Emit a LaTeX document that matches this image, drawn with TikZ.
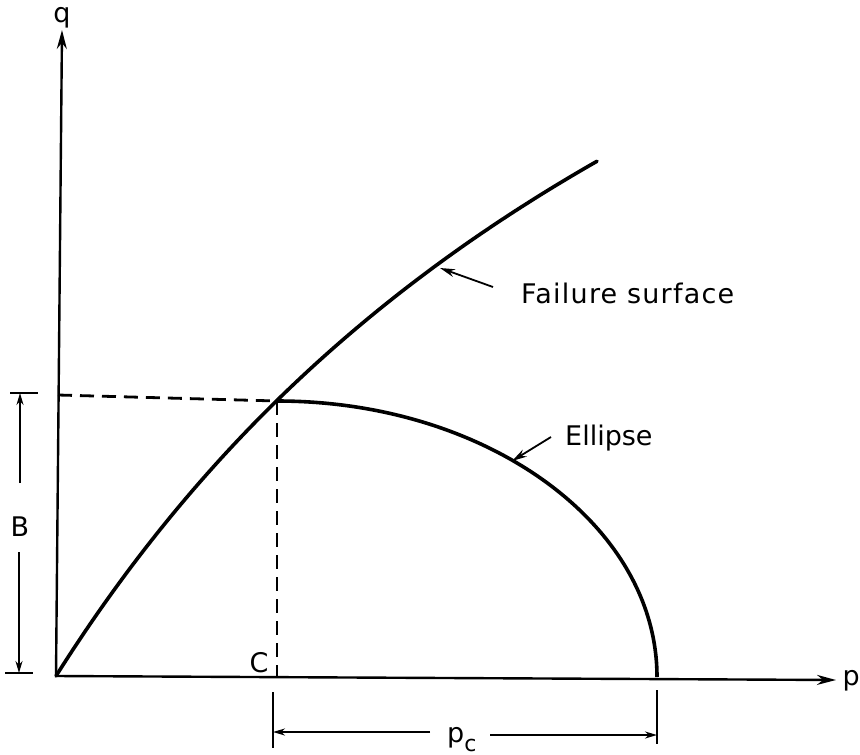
\documentclass[tikz,border=0pt]{standalone}
\usepackage{fontspec}
\setmainfont{DejaVu Sans}
\usetikzlibrary{arrows.meta}
\begin{document}
\begin{tikzpicture}[x=1pt,y=-1pt,
  axis/.style={line width=2.4pt,-{Stealth[length=19pt,width=10pt]}},
  curve/.style={line width=3.6pt},
  dashline/.style={line width=2.8pt,dash pattern=on 14pt off 8pt},
  dimline/.style={line width=1.8pt},
  dimarrow/.style={line width=1.8pt,-{Stealth[length=12pt,width=7pt]}},
  leader/.style={line width=1.8pt,-{Stealth[length=15pt,width=8pt]}},
  lbl/.style={inner sep=0pt,font=\fontsize{27}{30}\selectfont}]
\useasboundingbox (0,0) rectangle (860,755);
% axes
\coordinate (O) at (56,676);
\coordinate (qtop) at (62,30);
\coordinate (pend) at (836,680);
\draw[axis] (O) -- (qtop);
\draw[axis] (O) -- (pend);
\node[lbl,anchor=base] (qlab) at (62,22) {q};
\node[lbl,anchor=base east] (plab) at (860,685) {p};
% failure surface
\draw[curve,line cap=round] plot[domain=0:541,samples=80] ({56+\x},{676-\x/(0.63+0.00078*\x)});
% ellipse
\coordinate (ellR) at (657,677);
\coordinate (ellT) at (277,401);
\draw[curve] (ellR) arc[start angle=0,end angle=-90,x radius=380,y radius=276];
% dashed lines
\coordinate (dashL) at (58,395);
\coordinate (Cpt) at (277,677);
\draw[dashline] (dashL) -- (ellT);
\draw[dashline] (ellT) -- (Cpt);
\node[lbl,anchor=base] (Clab) at (259,672) {C};
% B dimension
\coordinate (Btl) at (10,393);
\coordinate (Btr) at (38,393);
\coordinate (Bbl) at (5,673);
\coordinate (Bbr) at (33,673);
\draw[dimline] (Btl) -- (Btr);
\draw[dimline] (Bbl) -- (Bbr);
\node[lbl,anchor=center] (Blab) at (20,527) {B};
\coordinate (B1) at (20,483);
\coordinate (B2) at (20,393);
\coordinate (B3) at (19,552);
\coordinate (B4) at (19,673);
\draw[dimarrow] (B1) -- (B2);
\draw[dimarrow] (B3) -- (B4);
% pc dimension
\coordinate (Lt) at (273,692);
\coordinate (Lb) at (273,748);
\coordinate (Rt) at (657,690);
\coordinate (Rb) at (657,744);
\draw[dimline] (Lt) -- (Lb);
\draw[dimline] (Rt) -- (Rb);
\node[lbl,anchor=base west] (pclab) at (447,742) {p\raisebox{-9pt}{\fontsize{22}{24}\selectfont c}};
\coordinate (P1) at (430,732);
\coordinate (P2) at (273,732);
\coordinate (P3) at (490,735);
\coordinate (P4) at (657,735);
\draw[dimarrow] (P1) -- (P2);
\draw[dimarrow] (P3) -- (P4);
% labels with leaders
\node[lbl,anchor=base west] (flab) at (521,303) {\addfontfeatures{LetterSpace=4.5}Failure surface};
\coordinate (fTail) at (493,287);
\coordinate (fTip) at (440,268);
\draw[leader] (fTail) -- (fTip);
\node[lbl,anchor=base west] (elab) at (565,445) {Ellipse};
\coordinate (eTail) at (551,437);
\coordinate (eTip) at (512,461);
\draw[leader] (eTail) -- (eTip);
\end{tikzpicture}
\end{document}
